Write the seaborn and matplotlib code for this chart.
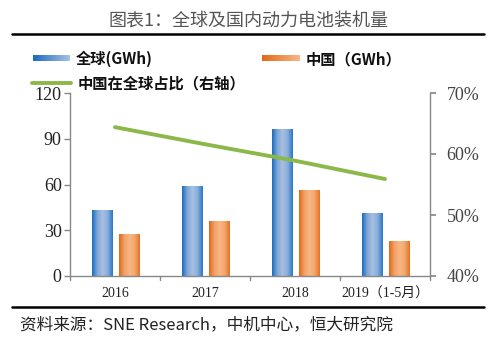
import numpy as np
import pandas as pd
import matplotlib
matplotlib.use("Agg")
import matplotlib.pyplot as plt
import seaborn as sns
from matplotlib.colors import LinearSegmentedColormap
from matplotlib.lines import Line2D
from matplotlib.patches import Patch

categories = ["2016", "2017", "2018", "2019（1-5月）"]
global_gwh = [43.3, 59.0, 96.4, 41.3]
china_gwh = [27.5, 36.0, 56.4, 23.0]
china_share = [64.4, 61.6, 58.9, 55.9]
left_ticks = [0, 30, 60, 90, 120]
right_ticks = [40, 50, 60, 70]

sns.set_theme(style="white")
CJK = ["Noto Sans CJK SC", "DejaVu Sans"]
SERIF = ["Liberation Serif", "Noto Sans CJK SC"]
plt.rcParams["font.family"] = CJK

fig = plt.figure(figsize=(4.96, 3.43), dpi=100)
ax = fig.add_axes([70/496, 1-276/343, 360/496, 183/343])

df = pd.DataFrame({
    "cat": categories * 2,
    "val": global_gwh + china_gwh,
    "series": ["全球(GWh)"] * 4 + ["中国（GWh）"] * 4,
})
sns.barplot(data=df, x="cat", y="val", hue="series", ax=ax,
            palette=["#4f86c6", "#f0a060"], width=0.56, legend=False,
            saturation=1, linewidth=0)

# adjust bar widths / gradient fill
blue_cmap = LinearSegmentedColormap.from_list("b", ["#1a6cc0", "#7fa6d6", "#a9c0e2", "#8aaedb", "#2a78c6"])
orange_cmap = LinearSegmentedColormap.from_list("o", ["#e06a18", "#f2a068", "#f8b784", "#f3a86e", "#e57222"])
grad = np.linspace(0, 1, 64).reshape(1, -1)
patches = list(ax.patches)
for i, p in enumerate(patches):
    x0 = p.get_x(); w = p.get_width()
    newx = x0 + w * 0.1 if i < 4 else x0 + w * 0.15
    neww = w * 0.82
    p.set_x(newx); p.set_width(neww)
    cmap = blue_cmap if i < 4 else orange_cmap
    h = p.get_height()
    im = ax.imshow(grad, cmap=cmap, aspect="auto", extent=[newx, newx + neww, 0, h],
                   zorder=p.get_zorder() + 0.1)
    im.set_clip_path(p)

ax.set_xlim(-0.5, 3.5)
ax.set_ylim(0, 120)
ax.set_yticks(left_ticks)
ax.set_yticklabels([str(t) for t in left_ticks], fontfamily=SERIF, fontsize=13, color="#222222")
ax.set_xticks(range(4))
ax.set_xticklabels(categories, fontfamily=SERIF, fontsize=10, color="#222222")
ax.set_xlabel(""); ax.set_ylabel("")
ax.tick_params(axis="x", length=0, pad=8)
ax.tick_params(axis="y", length=4, direction="out", color="#888888", width=1, left=True, pad=2)
for b in [-0.5, 0.5, 1.5, 2.5, 3.5]:
    ax.plot([b, b], [0, -2.5], color="#888888", lw=1, clip_on=False)
for s in ["top", "right"]:
    ax.spines[s].set_visible(False)
for s in ["left", "bottom"]:
    ax.spines[s].set_color("#888888"); ax.spines[s].set_linewidth(1)

ax2 = ax.twinx()
sns.lineplot(x=list(range(4)), y=china_share, ax=ax2, color="#8cb84a", lw=2.8, legend=False)
ax2.set_ylim(40, 70)
ax2.set_xlim(-0.5, 3.5)
ax2.set_yticks(right_ticks)
ax2.set_yticklabels([f"{t}%" for t in right_ticks], fontfamily=SERIF, fontsize=13, color="#444444")
ax2.tick_params(axis="y", length=4, direction="out", color="#888888", right=True, pad=8)
for s in ["top", "left", "bottom"]:
    ax2.spines[s].set_visible(False)
ax2.spines["right"].set_color("#888888"); ax2.spines["right"].set_linewidth(1)
ax2.set_ylabel("")

# title and rules
fig.text(0.5, 1 - 22/343, "图表1：全球及国内动力电池装机量", ha="center", va="center",
         fontsize=13, color="#555555")
fig.add_artist(Line2D([12/496, 484/496], [1-34/343, 1-34/343], color="black", lw=1.8))
fig.add_artist(Line2D([12/496, 484/496], [1-307/343, 1-307/343], color="black", lw=1.8))
fig.text(20/496, 1 - 325/343, "资料来源：SNE Research，中机中心，恒大研究院", ha="left", va="center",
         fontsize=12, style="italic", color="#222222")

# legend
def grad_patch(x0, x1, y, cmap):
    lax = fig.add_axes([x0/496, 1-(y+3.5)/343, (x1-x0)/496, 7/343])
    lax.imshow(grad, cmap=cmap, aspect="auto")
    lax.axis("off")

grad_patch(33, 70, 58, LinearSegmentedColormap.from_list("lb", ["#1a6cc0", "#a9c0e2"]))
fig.text(76/496, 1-59/343, "全球(GWh)", fontsize=11, fontweight="bold", va="center", color="#111111")
grad_patch(262, 300, 58, LinearSegmentedColormap.from_list("lo", ["#e06a18", "#f8b784"]))
fig.text(306/496, 1-59/343, "中国（GWh）", fontsize=11, fontweight="bold", va="center", color="#111111")
fig.add_artist(Line2D([32/496, 71/496], [1-83/343, 1-83/343], color="#8cb84a", lw=2.8))
fig.text(78/496, 1-83/343, "中国在全球占比（右轴）", fontsize=11, fontweight="bold", va="center", color="#111111")

fig.savefig("out.png", dpi=100)
